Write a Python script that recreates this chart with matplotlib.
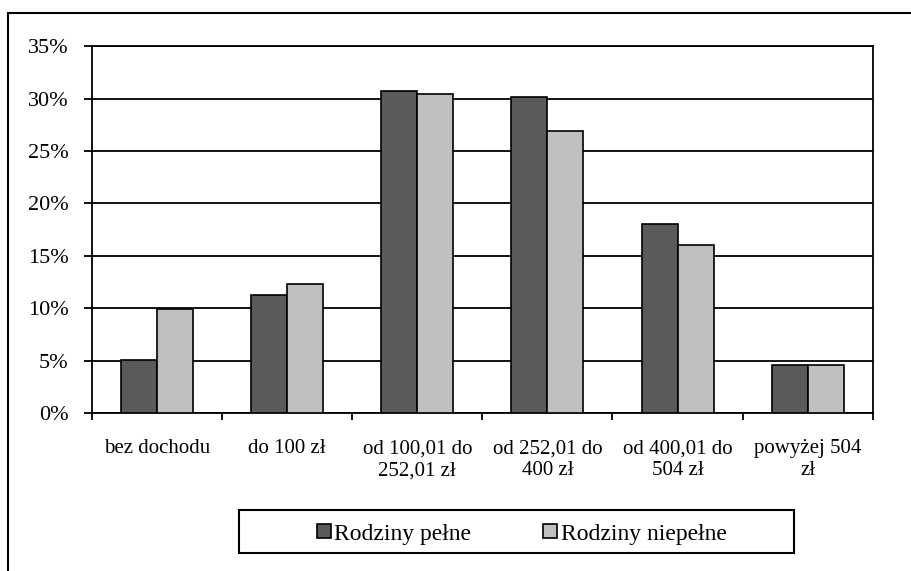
import numpy as np
import matplotlib
matplotlib.use('Agg')
import matplotlib.pyplot as plt
from matplotlib.patches import Rectangle
from matplotlib.lines import Line2D

categories = ['bez dochodu', 'do 100 zł', 'od 100,01 do\n252,01 zł',
              'od 252,01 do\n400 zł', 'od 400,01 do\n504 zł', 'powyżej 504\nzł']
pelne = [5.1, 11.3, 30.7, 30.2, 18.0, 4.6]
niepelne = [9.9, 12.3, 30.4, 26.9, 16.0, 4.6]
series_names = ['Rodziny pełne', 'Rodziny niepełne']
colors = ['#5a5a5a', '#c0c0c0']
yticks = [0, 5, 10, 15, 20, 25, 30, 35]

plt.rcParams['font.family'] = ['Liberation Serif', 'DejaVu Serif']

fig = plt.figure(figsize=(9.11, 5.71), dpi=100)
ax = fig.add_axes([0.101, 0.2767, 0.857, 0.6423])

x = np.arange(len(categories))
w = 0.277
ax.bar(x - w / 2, pelne, w, color=colors[0], edgecolor='black', linewidth=1.2, zorder=3)
ax.bar(x + w / 2, niepelne, w, color=colors[1], edgecolor='black', linewidth=1.2, zorder=3)

ax.set_xlim(-0.5, len(categories) - 0.5)
ax.set_ylim(0, 35)
ax.set_yticks(yticks)
ax.set_yticklabels(['%d%%' % v for v in yticks], fontsize=16)
ax.yaxis.grid(True, color='black', linewidth=1.3, zorder=0)
ax.tick_params(axis='y', direction='out', length=6, width=1.3, pad=11)

ax.set_xticks(x)
ax.set_xticklabels(categories, fontsize=15)
ax.set_xticks(np.arange(len(categories) + 1) - 0.5, minor=True)
ax.tick_params(axis='x', which='major', length=0, pad=19)
ax.tick_params(axis='x', which='minor', direction='out', length=5, width=1.3)

for s in ax.spines.values():
    s.set_linewidth(1.3)
    s.set_color('black')

# outer chart frame
fig.patches.append(Rectangle((0.0088, -0.05), 1.05, 0.977 + 0.05, transform=fig.transFigure,
                             fill=False, edgecolor='black', linewidth=1.5))

# legend frame
fig.patches.append(Rectangle((0.262, 0.0315), 0.61, 0.0753, transform=fig.transFigure,
                             fill=False, edgecolor='black', linewidth=1.5))

handles = [Line2D([], [], linestyle='none', marker='s', markersize=10,
                  markerfacecolor=c, markeredgecolor='black', markeredgewidth=1.2)
           for c in colors]
fig.legend(handles, series_names, loc='center', bbox_to_anchor=(0.572, 0.065),
           ncol=2, frameon=False, fontsize=17, handlelength=0.7, handletextpad=0.1,
           columnspacing=3.0, borderpad=0.1, borderaxespad=0)

fig.savefig('out.png', dpi=100)
